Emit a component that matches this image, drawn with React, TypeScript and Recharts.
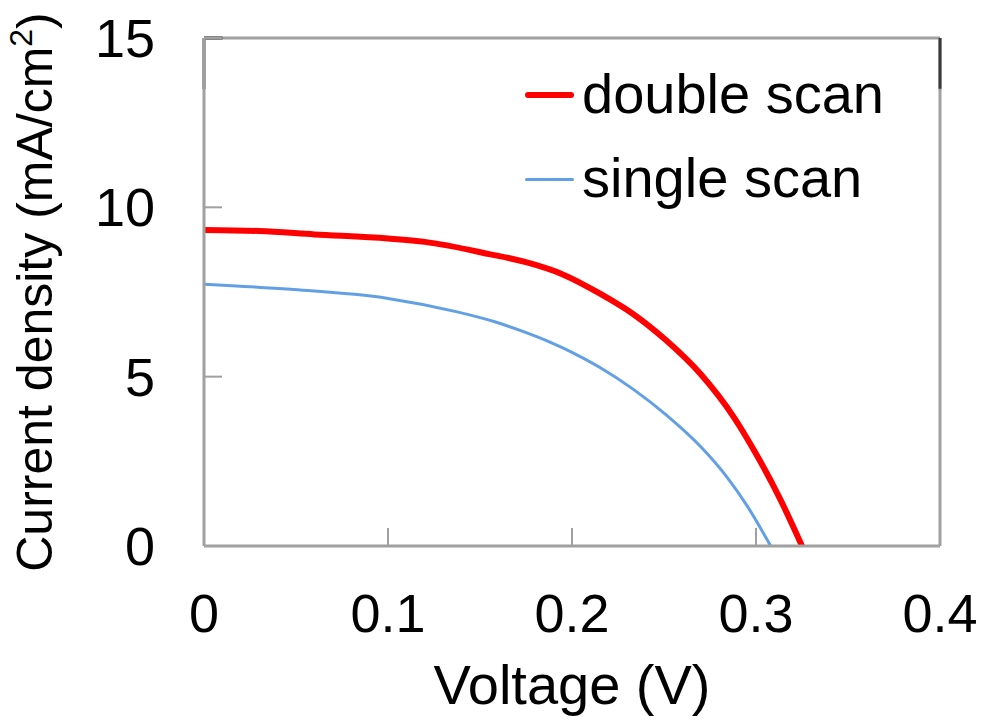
import { Legend, Line, LineChart, ReferenceLine, XAxis, YAxis } from "recharts";

const voltageDouble = [0, 0.03, 0.06, 0.1, 0.12, 0.155, 0.175, 0.195, 0.215, 0.233, 0.251, 0.27, 0.288, 0.302, 0.313, 0.325];
const currentDouble = [9.33, 9.3, 9.2, 9.08, 8.98, 8.62, 8.38, 8.02, 7.46, 6.86, 6.08, 5.07, 3.8, 2.53, 1.4, 0];

const voltageSingle = [0, 0.047, 0.1, 0.137, 0.158, 0.174, 0.188, 0.2, 0.215, 0.233, 0.251, 0.27, 0.284, 0.295, 0.308];
const currentSingle = [7.73, 7.58, 7.31, 6.92, 6.62, 6.32, 6.02, 5.72, 5.28, 4.64, 3.88, 2.93, 2.05, 1.2, 0];

const xTicks = [0, 0.1, 0.2, 0.3, 0.4];
const yTicks = [0, 5, 10, 15];

const FONT = "'Liberation Sans', Arial, sans-serif";
const FRAME = "#a0a0a0";
const RED = "#ff0000";
const BLUE = "#62a0e6";

// merge both scans onto one voltage list, gaps bridged with connectNulls
const allV = Array.from(new Set([...voltageDouble, ...voltageSingle])).sort((a, b) => a - b);
const rows = allV.map((v) => {
  const di = voltageDouble.indexOf(v);
  const si = voltageSingle.indexOf(v);
  return {
    v,
    double: di >= 0 ? currentDouble[di] : null,
    single: si >= 0 ? currentSingle[si] : null,
  };
});

function YTick({ x, y, payload }: any) {
  return (
    <g>
      <line x1={x} x2={x + 18} y1={y} y2={y} stroke={FRAME} strokeWidth={2} />
      <text x={x - 49} y={y + 19} textAnchor="end" fontSize={54} fontFamily={FONT} fill="#000">
        {payload.value}
      </text>
    </g>
  );
}

function XTick({ x, y, payload }: any) {
  return (
    <g>
      <line x1={x} x2={x} y1={y} y2={y - 18} stroke={FRAME} strokeWidth={2} />
      <text x={x} y={y + 86} textAnchor="middle" fontSize={54} fontFamily={FONT} fill="#000">
        {payload.value === 0 ? "0" : String(payload.value)}
      </text>
    </g>
  );
}

function YTitle() {
  return (
    <text transform="translate(52,292) rotate(-90)" textAnchor="middle" fontSize={50} fontFamily={FONT} fill="#000">
      Current density (mA/cm
      <tspan dy={-20} fontSize={32}>2</tspan>
      <tspan dy={20}>)</tspan>
    </text>
  );
}

function XTitle() {
  return (
    <text x={572} y={704} textAnchor="middle" fontSize={56} fontFamily={FONT} fill="#000">
      Voltage (V)
    </text>
  );
}

function LegendBox() {
  const items = [
    { name: "double scan", color: RED, width: 6, top: 66 },
    { name: "single scan", color: BLUE, width: 3, top: 150 },
  ];
  return (
    <div style={{ position: "relative" }}>
      {items.map((r) => (
        <div key={r.name} style={{ position: "absolute", left: 0, top: r.top, whiteSpace: "nowrap" }}>
          <div
            style={{
              position: "absolute",
              left: 525,
              top: 29 - r.width / 2,
              width: 49,
              height: r.width,
              borderRadius: r.width / 2,
              background: r.color,
            }}
          />
          <div
            style={{
              position: "absolute",
              left: 582,
              top: 0,
              fontSize: 56,
              lineHeight: "56px",
              fontFamily: FONT,
              color: "#000",
            }}
          >
            {r.name}
          </div>
        </div>
      ))}
    </div>
  );
}

export default function App() {
  return (
    <div style={{ position: "fixed", left: 0, top: 0, background: "#fff" }}>
      <LineChart width={986} height={721} data={rows} margin={{ top: 38, right: 46, left: 54, bottom: 75 }}>
        <XAxis
          type="number"
          dataKey="v"
          domain={[0, 0.4]}
          ticks={xTicks}
          height={100}
          tickSize={0}
          tickMargin={0}
          tick={<XTick />}
          stroke={FRAME}
          strokeWidth={3}
          label={<XTitle />}
        />
        <YAxis
          type="number"
          domain={[0, 15]}
          ticks={yTicks}
          width={150}
          tickSize={0}
          tickMargin={0}
          tick={<YTick />}
          stroke={FRAME}
          strokeWidth={3}
          label={<YTitle />}
        />
        <ReferenceLine y={15} stroke={FRAME} strokeWidth={3} />
        <ReferenceLine x={0.4} stroke={FRAME} strokeWidth={3} />
        <ReferenceLine segment={[{ x: 0, y: 15 }, { x: 0, y: 13.5 }]} stroke="#3a3a3a" strokeWidth={3} />
        <ReferenceLine segment={[{ x: 0, y: 15 }, { x: 0.01, y: 15 }]} stroke="#3a3a3a" strokeWidth={3} />
        <ReferenceLine segment={[{ x: 0.4, y: 15 }, { x: 0.4, y: 13.5 }]} stroke="#3a3a3a" strokeWidth={3} />
        <Line
          dataKey="single"
          name="single scan"
          type="monotone"
          stroke={BLUE}
          strokeWidth={3}
          dot={false}
          connectNulls
          isAnimationActive={false}
        />
        <Line
          dataKey="double"
          name="double scan"
          type="monotone"
          stroke={RED}
          strokeWidth={6}
          dot={false}
          connectNulls
          isAnimationActive={false}
        />
        <Legend
          layout="horizontal"
          verticalAlign="middle"
          align="center"
          content={<LegendBox />}
          wrapperStyle={{ left: 0, top: 0, width: 986, height: 0 }}
        />
      </LineChart>
    </div>
  );
}
